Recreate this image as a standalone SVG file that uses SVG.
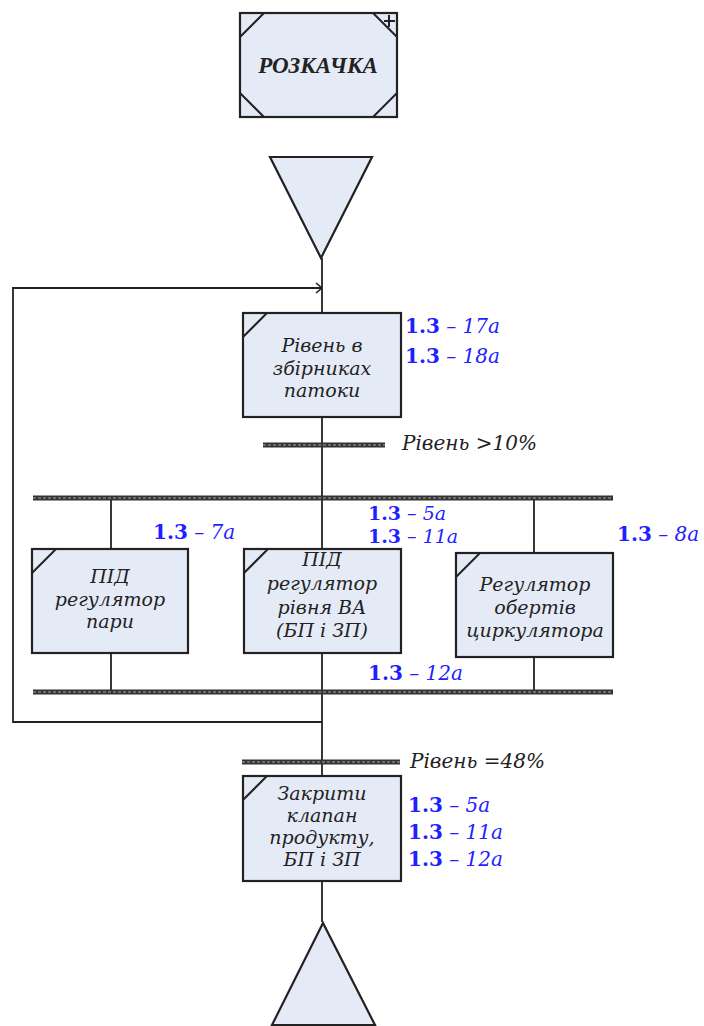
<svg xmlns="http://www.w3.org/2000/svg" width="704" height="1026" viewBox="0 0 704 1026">
<defs>
<style>
.box{fill:#e5ebf6;stroke:#222;stroke-width:2.2}
.ch{fill:none;stroke:#222;stroke-width:2}
.ln{fill:none;stroke:#222;stroke-width:1.8}
.bar{stroke:#333;stroke-width:5}
.bari{stroke:#aaa;stroke-width:1.2;stroke-dasharray:3 2}
.t{font-family:"DejaVu Serif","Liberation Serif",serif;font-style:italic;font-size:19px;fill:#222;text-anchor:middle}
.cond{font-family:"DejaVu Serif","Liberation Serif",serif;font-style:italic;font-size:20px;fill:#222}
.ref{font-family:"DejaVu Serif","Liberation Serif",serif;font-size:20px;fill:#1f1fff}
.sm{font-size:19px}
.ref .n{font-weight:bold;font-style:normal}
.ref .i{font-style:italic}
</style>
<marker id="arr" viewBox="0 0 10 12" refX="9" refY="6" markerWidth="10" markerHeight="12" markerUnits="userSpaceOnUse" orient="auto">
<path d="M3,1 L9,6 L3,11" fill="none" stroke="#222" stroke-width="1.6"/>
</marker>
</defs>

<g id="connectors">
<line class="ln" x1="322" y1="258" x2="322" y2="313"/>
<line class="ln" x1="322" y1="417" x2="322" y2="498"/>
<line class="ln" x1="322" y1="498" x2="322" y2="549"/>
<line class="ln" x1="111" y1="498" x2="111" y2="549"/>
<line class="ln" x1="534" y1="498" x2="534" y2="553"/>
<line class="ln" x1="111" y1="653" x2="111" y2="692"/>
<line class="ln" x1="322" y1="653" x2="322" y2="692"/>
<line class="ln" x1="534" y1="657" x2="534" y2="692"/>
<line class="ln" x1="322" y1="692" x2="322" y2="776"/>
<line class="ln" x1="322" y1="881" x2="322" y2="922"/>
<path class="ln" d="M322,722 H13 V288 H322" marker-end="url(#arr)"/>
</g>

<g id="bars">
<line class="bar" x1="263" y1="445" x2="385" y2="445"/>
<line class="bari" x1="263" y1="445" x2="385" y2="445"/>
<line class="bar" x1="33" y1="498" x2="613" y2="498"/>
<line class="bari" x1="33" y1="498" x2="613" y2="498"/>
<line class="bar" x1="33" y1="692" x2="613" y2="692"/>
<line class="bari" x1="33" y1="692" x2="613" y2="692"/>
<line class="bar" x1="242" y1="762" x2="400" y2="762"/>
<line class="bari" x1="242" y1="762" x2="400" y2="762"/>
</g>

<g id="start">
<rect class="box" x="240" y="13" width="157" height="104"/>
<path class="ch" d="M240,37 L264,13 M373,13 L397,37 M240,93 L264,117 M373,117 L397,93"/>
<path class="ch" stroke-width="1.3" d="M384,21 H395 M389,15 V27"/>
<text x="318" y="73" font-family="Liberation Serif, DejaVu Serif, serif" font-weight="bold" font-style="italic" font-size="23" fill="#222" text-anchor="middle">РОЗКАЧКА</text>
</g>

<g id="tri-top">
<polygon class="box" points="270,157 372,157 321,258"/>
</g>

<g id="n-level">
<rect class="box" x="243" y="313" width="158" height="104"/>
<path class="ch" d="M243,337 L267,313"/>
<text class="t" x="322" y="352">Рівень в</text>
<text class="t" x="322" y="375">збірниках</text>
<text class="t" x="322" y="397">патоки</text>
<text class="ref" x="405" y="333"><tspan class="n">1.3</tspan><tspan class="i"> – 17а</tspan></text>
<text class="ref" x="405" y="363"><tspan class="n">1.3</tspan><tspan class="i"> – 18а</tspan></text>
</g>

<g id="cond1">
<text class="cond" x="402" y="450">Рівень &gt;10%</text>
</g>

<g id="n-pid-steam">
<rect class="box" x="32" y="549" width="156" height="104"/>
<path class="ch" d="M32,573 L56,549"/>
<text class="t" x="110" y="583">ПІД</text>
<text class="t" x="110" y="606">регулятор</text>
<text class="t" x="110" y="628">пари</text>
<text class="ref" x="153" y="539"><tspan class="n">1.3</tspan><tspan class="i"> – 7а</tspan></text>
</g>

<g id="n-pid-level">
<rect class="box" x="244" y="549" width="157" height="104"/>
<path class="ch" d="M244,573 L268,549"/>
<text class="t" x="322" y="566">ПІД</text>
<text class="t" x="322" y="590">регулятор</text>
<text class="t" x="322" y="614">рівня ВА</text>
<text class="t" x="322" y="637">(БП і ЗП)</text>
<text class="ref sm" x="368" y="520"><tspan class="n">1.3</tspan><tspan class="i"> – 5а</tspan></text>
<text class="ref sm" x="368" y="543"><tspan class="n">1.3</tspan><tspan class="i"> – 11а</tspan></text>
<text class="ref" x="368" y="680"><tspan class="n">1.3</tspan><tspan class="i"> – 12а</tspan></text>
</g>

<g id="n-circ">
<rect class="box" x="456" y="553" width="157" height="104"/>
<path class="ch" d="M456,577 L480,553"/>
<text class="t" x="535" y="591">Регулятор</text>
<text class="t" x="535" y="614">обертів</text>
<text class="t" x="535" y="637">циркулятора</text>
<text class="ref" x="617" y="541"><tspan class="n">1.3</tspan><tspan class="i"> – 8а</tspan></text>
</g>

<g id="cond2">
<text class="cond" x="410" y="768">Рівень =48%</text>
</g>

<g id="n-close">
<rect class="box" x="243" y="776" width="158" height="105"/>
<path class="ch" d="M243,800 L267,776"/>
<text class="t" x="322" y="800">Закрити</text>
<text class="t" x="322" y="822">клапан</text>
<text class="t" x="322" y="844">продукту,</text>
<text class="t" x="322" y="866">БП і ЗП</text>
<text class="ref" x="408" y="812"><tspan class="n">1.3</tspan><tspan class="i"> – 5а</tspan></text>
<text class="ref" x="408" y="839"><tspan class="n">1.3</tspan><tspan class="i"> – 11а</tspan></text>
<text class="ref" x="408" y="866"><tspan class="n">1.3</tspan><tspan class="i"> – 12а</tspan></text>
</g>

<g id="tri-bottom">
<polygon class="box" points="323,923 272,1025 375,1025"/>
</g>
</svg>
